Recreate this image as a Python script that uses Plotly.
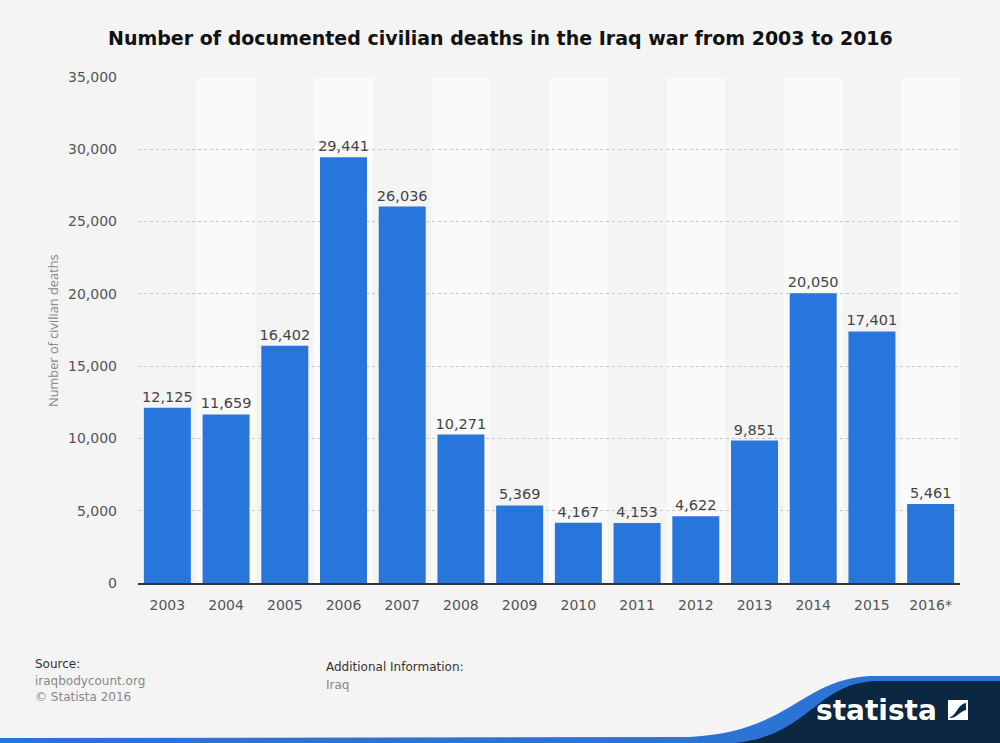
import plotly.graph_objects as go

# Data
years = ['2003', '2004', '2005', '2006', '2007', '2008', '2009',
         '2010', '2011', '2012', '2013', '2014', '2015', '2016*']
deaths = [12125, 11659, 16402, 29441, 26036, 10271, 5369,
          4167, 4153, 4622, 9851, 20050, 17401, 5461]
y_ticks = [0, 5000, 10000, 15000, 20000, 25000, 30000, 35000]

W, H = 1000, 743
ML, MR, MT, MB = 138, 40, 77, 160
PW, PH = W - ML - MR, H - MT - MB

def px(x):
    return (x - ML) / PW

def py(y):
    return (H - MB - y) / PH

font = 'DejaVu Sans'

fig = go.Figure()
fig.add_trace(go.Bar(
    x=years, y=deaths,
    marker=dict(color='#2875dc', line=dict(width=0)),
    text=[f'{v:,}' for v in deaths],
    textposition='outside',
    constraintext='none',
    textfont=dict(family=font, size=14.5, color='#444444'),
    cliponaxis=False,
    hovertemplate='%{x}: %{y:,}<extra></extra>',
))

shapes = []
# alternating column bands
for i in range(len(years)):
    if i % 2 == 1:
        shapes.append(dict(type='rect', xref='x', yref='paper',
                           x0=i - 0.5, x1=i + 0.5, y0=0, y1=0.998,
                           fillcolor='#fafafa', line=dict(width=0), layer='below'))

# statista footer swoosh
blue_path = (f'M {px(0)},{py(738)} L {px(690)},{py(737)} '
             f'C {px(790)},{py(732)} {px(800)},{py(680)} {px(870)},{py(676)} '
             f'L {px(1000)},{py(676)} L {px(1000)},{py(743)} L {px(0)},{py(743)} Z')
navy_path = (f'M {px(735)},{py(743)} '
             f'C {px(810)},{py(735)} {px(815)},{py(684)} {px(875)},{py(681)} '
             f'L {px(1000)},{py(681)} L {px(1000)},{py(743)} Z')
shapes.append(dict(type='path', xref='paper', yref='paper', path=blue_path,
                   fillcolor='#2b74d6', line=dict(width=0), layer='above'))
shapes.append(dict(type='path', xref='paper', yref='paper', path=navy_path,
                   fillcolor='#0b2742', line=dict(width=0), layer='above'))
# logo mark
shapes.append(dict(type='path', xref='paper', yref='paper',
                   path=(f'M {px(948)},{py(700)} L {px(968)},{py(700)} L {px(968)},{py(720)} '
                         f'L {px(948)},{py(720)} Z'),
                   fillcolor='#ffffff', line=dict(width=0), layer='above'))
shapes.append(dict(type='path', xref='paper', yref='paper',
                   path=(f'M {px(950)},{py(717)} C {px(956)},{py(716)} {px(958)},{py(704)} {px(966)},{py(703)} '
                         f'L {px(966)},{py(710)} C {px(960)},{py(711)} {px(957)},{py(718)} {px(950)},{py(718)} Z'),
                   fillcolor='#0b2742', line=dict(width=0), layer='above'))

annotations = [
    dict(text='<b>Number of documented civilian deaths in the Iraq war from 2003 to 2016</b>',
         xref='paper', yref='paper', x=px(500), y=py(38), xanchor='center', yanchor='middle',
         showarrow=False, font=dict(family='DejaVu Sans', size=19, color='#111111')),
    dict(text='Number of civilian deaths', xref='paper', yref='paper',
         x=px(53), y=py(331), textangle=-90, xanchor='center', yanchor='middle',
         showarrow=False, font=dict(family='Open Sans', size=12.8, color='#888888')),
    dict(text='Source:', xref='paper', yref='paper', x=px(33), y=py(664),
         xanchor='left', yanchor='middle', showarrow=False,
         font=dict(family=font, size=12, color='#333333')),
    dict(text='iraqbodycount.org', xref='paper', yref='paper', x=px(33), y=py(681),
         xanchor='left', yanchor='middle', showarrow=False,
         font=dict(family=font, size=12, color='#888888')),
    dict(text='© Statista 2016', xref='paper', yref='paper', x=px(33), y=py(697),
         xanchor='left', yanchor='middle', showarrow=False,
         font=dict(family=font, size=12, color='#888888')),
    dict(text='Additional Information:', xref='paper', yref='paper', x=px(324), y=py(667),
         xanchor='left', yanchor='middle', showarrow=False,
         font=dict(family=font, size=12, color='#333333')),
    dict(text='Iraq', xref='paper', yref='paper', x=px(324), y=py(685),
         xanchor='left', yanchor='middle', showarrow=False,
         font=dict(family=font, size=12, color='#888888')),
    dict(text='<b>statista</b>', xref='paper', yref='paper', x=px(939), y=py(710),
         xanchor='right', yanchor='middle', showarrow=False,
         font=dict(family=font, size=28, color='#ffffff')),
]

fig.update_layout(
    width=W, height=H,
    margin=dict(l=ML, r=MR, t=MT, b=MB),
    paper_bgcolor='#f4f4f4',
    plot_bgcolor='#f4f4f4',
    bargap=0.2,
    showlegend=False,
    shapes=shapes,
    annotations=annotations,
    xaxis=dict(
        tickfont=dict(family=font, size=14, color='#555555'),
        showgrid=False, showline=True, linecolor='#333333', linewidth=1.5,
        ticks='', ticklabelstandoff=8, fixedrange=True,
    ),
    yaxis=dict(
        range=[0, 35000], tickvals=y_ticks, tickformat=',',
        tickfont=dict(family=font, size=14, color='#555555'),
        showgrid=True, gridcolor='#c8c8c8', griddash='dot', gridwidth=1,
        zeroline=False, ticks='', ticklabelstandoff=20, fixedrange=True,
    ),
)

fig.write_html('out.html', config={'displayModeBar': False},
               post_script="document.body.style.margin='0';")
